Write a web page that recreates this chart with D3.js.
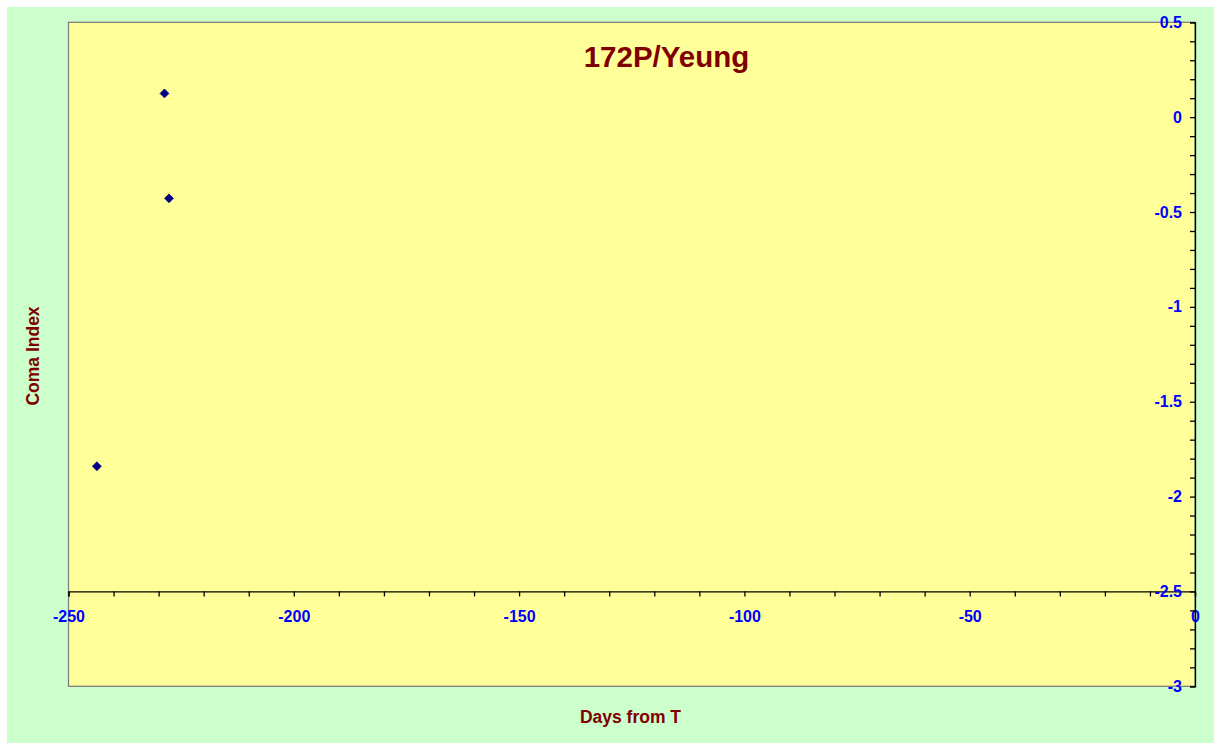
<!DOCTYPE html>
<html>
<head>
<meta charset="utf-8">
<script src="https://cdn.jsdelivr.net/npm/d3@7"></script>
<style>
  html, body { margin: 0; padding: 0; background: #ffffff; }
  svg { display: block; }
  text { font-family: Arial, "Liberation Sans", sans-serif; font-weight: bold; }
</style>
</head>
<body>
<svg id="chart" width="1221" height="750"></svg>
<script>
// Data
const days = [-243.7, -228.7, -227.7];
const comaIndex = [-1.84, 0.125, -0.428];
const xTicks = [-250, -200, -150, -100, -50, 0];
const yTicks = [0.5, 0, -0.5, -1, -1.5, -2, -2.5, -3];
const titleText = "172P/Yeung";
const xTitle = "Days from T";
const yTitle = "Coma Index";

const svg = d3.select("#chart");
const W = 1221, H = 750;
const plot = { left: 68.5, right: 1195, top: 22.3, bottom: 686.3 };

const x = d3.scaleLinear().domain([-250, 0]).range([plot.left, plot.right]);
const y = d3.scaleLinear().domain([-3, 0.5]).range([plot.bottom, plot.top]);

// Backgrounds
svg.append("rect").attr("x", 0).attr("y", 0).attr("width", W).attr("height", H).attr("fill", "#ffffff");
svg.append("rect").attr("x", 7).attr("y", 7).attr("width", 1207).attr("height", 736).attr("fill", "#CCFFCC");
svg.append("rect").attr("x", plot.left).attr("y", plot.top)
  .attr("width", plot.right - plot.left).attr("height", plot.bottom - plot.top)
  .attr("fill", "#FFFF99").attr("stroke", "#808080").attr("stroke-width", 1.3);

const fmt = v => String(Math.round(v * 10) / 10);

// X axis (at y = -2.5)
const xMinor = d3.range(-250, 1, 10);
const xAxisY = y(-2.5);
const xAxis = d3.axisBottom(x).tickValues(xMinor).tickSize(5)
  .tickFormat(d => xTicks.includes(d) ? fmt(d) : "");
const gx = svg.append("g").attr("transform", `translate(0,${xAxisY})`).call(xAxis);
gx.select(".domain").attr("stroke", "#000").attr("stroke-width", 1.3);
gx.selectAll(".tick line").attr("stroke", "#000").attr("stroke-width", 1.3);
gx.selectAll(".tick text").attr("fill", "#0000FF").attr("font-size", 16)
  .attr("font-weight", "bold").attr("font-family", "Arial, 'Liberation Sans', sans-serif")
  .attr("dy", null).attr("y", 30.5);

// Y axis on right (at x = 0)
const yMinor = d3.range(-30, 6, 1).map(v => v / 10);
const yAxis = d3.axisLeft(y).tickValues(yMinor).tickSize(5)
  .tickFormat(d => yTicks.some(t => Math.abs(t - d) < 1e-9) ? fmt(d) : "");
const gy = svg.append("g").attr("transform", `translate(${x(0)},0)`).call(yAxis);
gy.select(".domain").attr("stroke", "#000").attr("stroke-width", 1.3);
gy.selectAll(".tick line").attr("stroke", "#000").attr("stroke-width", 1.3);
gy.selectAll(".tick text").attr("fill", "#0000FF").attr("font-size", 16)
  .attr("font-weight", "bold").attr("font-family", "Arial, 'Liberation Sans', sans-serif")
  .attr("x", -13);

// Data points (diamonds)
const pts = days.map((d, i) => ({ d, c: comaIndex[i] }));
svg.append("g").selectAll("path").data(pts).join("path")
  .attr("transform", p => `translate(${x(p.d)},${y(p.c)})`)
  .attr("d", d3.symbol().type(d3.symbolDiamond2).size(50))
  .attr("fill", "#000080").attr("stroke", "#000080").attr("stroke-width", 0.8);

// Title
svg.append("text").attr("x", 666.5).attr("y", 67).attr("text-anchor", "middle")
  .attr("fill", "#800000").attr("font-size", 29.5).text(titleText);

// Axis titles
svg.append("text").attr("x", 630.5).attr("y", 722.5).attr("text-anchor", "middle")
  .attr("fill", "#800000").attr("font-size", 17.5).text(xTitle);
svg.append("text").attr("transform", "translate(39,356) rotate(-90)").attr("text-anchor", "middle")
  .attr("fill", "#800000").attr("font-size", 17.5).text(yTitle);
</script>
</body>
</html>
